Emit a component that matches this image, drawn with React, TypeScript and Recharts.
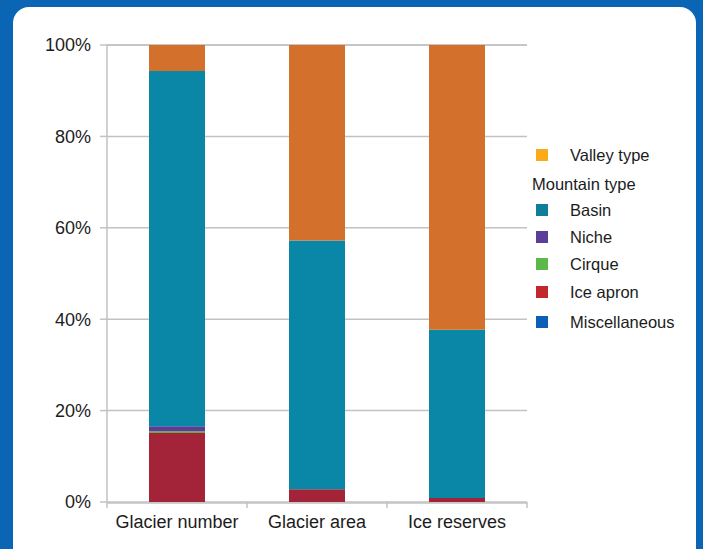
import { BarChart, Bar, XAxis, YAxis, CartesianGrid } from 'recharts'

// ── Chart data (percent of total) ───────────────────────────────
const categories = ['Glacier number', 'Glacier area', 'Ice reserves']
const miscellaneous = [0, 0, 0]
const iceApron = [15.1, 2.8, 0.9]
const cirque = [0.4, 0, 0]
const niche = [1.1, 0, 0]
const basin = [77.7, 54.4, 36.8]
const valley = [5.7, 42.8, 62.3]
const yTicks = [0, 20, 40, 60, 80, 100]
const boundaryTicks = [0, 1, 2, 3]

// stacking order bottom → top
const SERIES = [
  { key: 'misc', name: 'Miscellaneous', values: miscellaneous, fill: '#0d5fb5', legend: '#0a5fb8' },
  { key: 'apron', name: 'Ice apron', values: iceApron, fill: '#a32338', legend: '#c1272d' },
  { key: 'cirque', name: 'Cirque', values: cirque, fill: '#6aa84a', legend: '#5cb848' },
  { key: 'niche', name: 'Niche', values: niche, fill: '#5a3f95', legend: '#5b3e99' },
  { key: 'basin', name: 'Basin', values: basin, fill: '#0a86a6', legend: '#0e7f9a' },
  { key: 'valley', name: 'Valley type', values: valley, fill: '#d3702c', legend: '#fbaa1c' },
]

const data = categories.map((name, i) => {
  const row: Record<string, string | number> = { name, idx: i }
  SERIES.forEach(s => { row[s.key] = s.values[i] })
  return row
})

const FONT = '"Liberation Sans", Arial, Helvetica, sans-serif'
const GRID = '#c2c2c2'
const TEXT = '#1c1c1c'

const LegendRow = ({ color, label, top }: { color: string; label: string; top: number }) => (
  <div style={{ position: 'absolute', left: 536, top, display: 'flex', alignItems: 'center', height: 16 }}>
    <div style={{ width: 12, height: 12, background: color }} />
    <span style={{ marginLeft: 22, fontSize: 16.5, color: TEXT }}>{label}</span>
  </div>
)

export default function App() {
  const byName = (n: string) => SERIES.find(s => s.name === n)!.legend
  return (
    <div style={{ position: 'absolute', left: 0, top: 0, width: 703, height: 549, background: '#0a66b4', overflow: 'hidden', fontFamily: FONT }}>
      <div style={{ position: 'absolute', left: 13, top: 7, width: 683, height: 560, background: '#fff', borderRadius: 16 }} />

      <div style={{ position: 'absolute', left: 0, top: 0 }}>
        <BarChart
          width={703}
          height={549}
          data={data}
          margin={{ top: 45, right: 176, bottom: 7, left: 17 }}
          barCategoryGap="30%"
        >
          <CartesianGrid vertical={false} stroke={GRID} strokeWidth={1.5} />
          <XAxis
            xAxisId="bounds"
            dataKey="idx"
            type="number"
            domain={[0, 3]}
            allowDataOverflow
            ticks={boundaryTicks}
            tickFormatter={() => ''}
            height={1}
            tickSize={6}
            axisLine={false}
            tickLine={{ stroke: GRID, strokeWidth: 1.5 }}
          />
          <XAxis
            xAxisId="cat"
            dataKey="name"
            height={39}
            tickLine={false}
            tickSize={6}
            tickMargin={6}
            axisLine={{ stroke: GRID, strokeWidth: 1.5 }}
            tick={{ fill: TEXT, fontSize: 18, fontFamily: FONT }}
          />
          <YAxis
            domain={[0, 100]}
            ticks={yTicks}
            interval={0}
            width={90}
            tickSize={7}
            tickMargin={9}
            tickFormatter={v => `${v}%`}
            axisLine={{ stroke: GRID, strokeWidth: 1.5 }}
            tickLine={{ stroke: GRID, strokeWidth: 1.5 }}
            tick={{ fill: TEXT, fontSize: 18, fontFamily: FONT }}
          />
          {SERIES.map(s => (
            <Bar key={s.key} xAxisId="cat" dataKey={s.key} name={s.name} stackId="a" fill={s.fill} isAnimationActive={false} />
          ))}
        </BarChart>
      </div>

      {/* Legend */}
      <LegendRow color={byName('Valley type')} label="Valley type" top={147} />
      <div style={{ position: 'absolute', left: 532, top: 175, fontSize: 16.5, color: TEXT }}>Mountain type</div>
      <LegendRow color={byName('Basin')} label="Basin" top={202} />
      <LegendRow color={byName('Niche')} label="Niche" top={229} />
      <LegendRow color={byName('Cirque')} label="Cirque" top={256} />
      <LegendRow color={byName('Ice apron')} label="Ice apron" top={284} />
      <LegendRow color={byName('Miscellaneous')} label="Miscellaneous" top={314} />
    </div>
  )
}
